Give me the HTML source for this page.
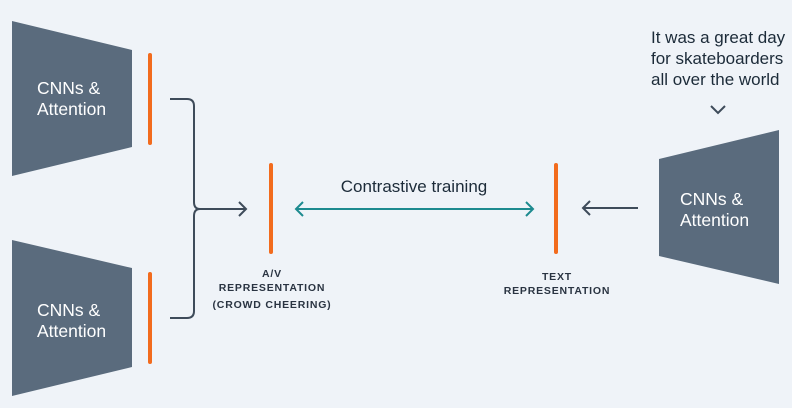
<!DOCTYPE html>
<html><head><meta charset="utf-8"><style>
html,body{margin:0;padding:0;background:#eff3f8;}
svg{display:block;}
</style></head><body>
<svg width="792" height="408" viewBox="0 0 792 408" xmlns="http://www.w3.org/2000/svg" font-family="Liberation Sans, sans-serif">
<rect width="792" height="408" fill="#eff3f8"/>
<polygon points="12,21 132,50 132,147 12,176" fill="#5a6b7d"/>
<polygon points="12,240 132,268 132,367 12,396" fill="#5a6b7d"/>
<polygon points="659,159 779,130 779,284 659,256" fill="#5a6b7d"/>
<g fill="#ffffff" font-size="17.5">
<text x="37" y="94">CNNs &amp;</text><text x="37" y="115">Attention</text>
<text x="37" y="316">CNNs &amp;</text><text x="37" y="337">Attention</text>
<text x="680" y="205">CNNs &amp;</text><text x="680" y="226">Attention</text>
</g>
<g stroke="#f26b1d" stroke-width="4" stroke-linecap="round">
<line x1="150" y1="55" x2="150" y2="143"/>
<line x1="150" y1="274" x2="150" y2="362"/>
<line x1="271" y1="165" x2="271" y2="252"/>
<line x1="556" y1="165" x2="556" y2="252"/>
</g>
<g fill="none" stroke="#3e4b5a" stroke-width="2">
<path d="M170,99 H187 Q194,99 194,106 V202 Q194,209 200,209 Q194,209 194,216 V311 Q194,318 187,318 H170"/>
<line x1="196" y1="209" x2="245" y2="209"/>
<polyline points="239,202 246,209 239,216"/>
<line x1="583" y1="208" x2="638" y2="208"/>
<polyline points="590,201 583,208 590,215"/>
<polyline points="711,106 718,113 725,106"/>
</g>
<g fill="none" stroke="#1d8a8f" stroke-width="2">
<line x1="296" y1="209" x2="533" y2="209"/>
<polyline points="303,202 296,209 303,216"/>
<polyline points="526,202 533,209 526,216"/>
</g>
<text x="414" y="192" text-anchor="middle" font-size="17" fill="#1c2b39">Contrastive training</text>
<g font-size="17" fill="#1c2b39">
<text x="651" y="43">It was a great day</text>
<text x="651" y="64">for skateboarders</text>
<text x="651" y="85">all over the world</text>
</g>
<g font-size="10.5" font-weight="bold" fill="#2a3442" text-anchor="middle" letter-spacing="0.8">
<text x="272" y="277">A/V</text>
<text x="272" y="291">REPRESENTATION</text>
<text x="272" y="308">(CROWD CHEERING)</text>
<text x="557" y="280">TEXT</text>
<text x="557" y="294">REPRESENTATION</text>
</g>
</svg>
</body></html>
